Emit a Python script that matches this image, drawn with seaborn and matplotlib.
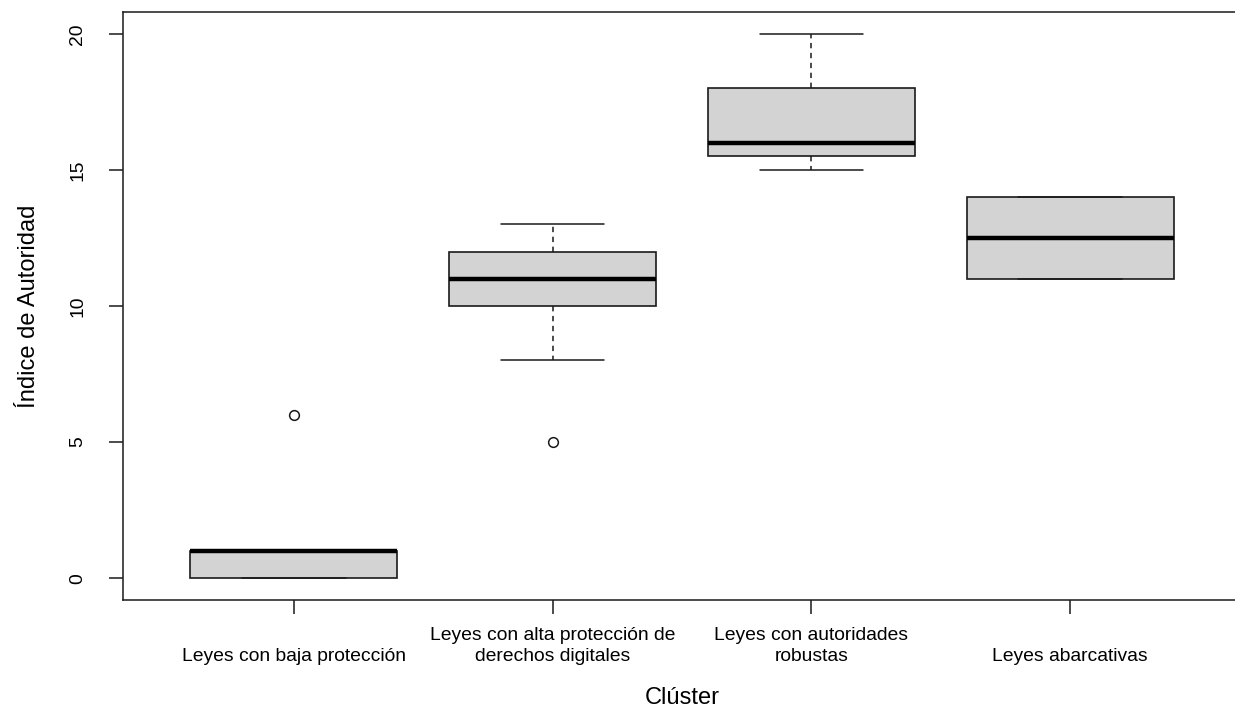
import matplotlib
matplotlib.use("Agg")
import matplotlib.pyplot as plt
import seaborn as sns
import pandas as pd

# ---- data ----
categories = [
    "Leyes con baja protección",
    "Leyes con alta protección de\nderechos digitales",
    "Leyes con autoridades\nrobustas",
    "Leyes abarcativas",
]
vals_baja = [0, 0, 0, 1, 1, 1, 1, 6]
vals_alta = [5, 8, 10, 10, 11, 11, 12, 12, 13]
vals_autoridades = [15, 15.5, 16, 18, 20]
vals_abarcativas = [11, 11, 14, 14]
y_ticks = [0, 5, 10, 15, 20]

groups = [vals_baja, vals_alta, vals_autoridades, vals_abarcativas]
df = pd.DataFrame({
    "cluster": [c for c, g in zip(categories, groups) for _ in g],
    "indice": [v for g in groups for v in g],
})

sns.set_theme(style="white")
plt.rcParams["font.family"] = ["Liberation Sans", "DejaVu Sans"]

W, H = 1235, 711
fig = plt.figure(figsize=(W / 100, H / 100), dpi=100)
ax_left, ax_right, ax_top, ax_bottom = 123, 1241, 12, 600
ax = fig.add_axes([ax_left / W, (H - ax_bottom) / H,
                   (ax_right - ax_left) / W, (ax_bottom - ax_top) / H])

edge = "#1a1a1a"
sns.boxplot(
    data=df, x="cluster", y="indice", order=categories, ax=ax,
    color="#D3D3D3", saturation=1, linecolor=edge, linewidth=1.2,
    width=0.8, whis=1.5,
    medianprops=dict(color="black", linewidth=3.2),
    whiskerprops=dict(color=edge, linewidth=1.1, linestyle=(0, (3.5, 3))),
    capprops=dict(color=edge, linewidth=1.1, linestyle="-"),
    flierprops=dict(marker="o", markerfacecolor="none", markeredgecolor=edge,
                    markersize=7, markeredgewidth=1.1),
    capwidths=0.4,
)

ax.set_xlim(-0.66, 3.66)
ax.set_ylim(-0.8, 20.8)
ax.set_yticks(y_ticks)
ax.set_yticklabels([str(t) for t in y_ticks], rotation=90, va="center")

for s in ax.spines.values():
    s.set_visible(True)
    s.set_color(edge)
    s.set_linewidth(1.1)

ax.tick_params(axis="both", which="major", direction="out", length=10,
               width=1.1, color=edge, labelsize=13.9, labelcolor="black",
               left=True, bottom=True)
ax.tick_params(axis="y", pad=16.5)
ax.tick_params(axis="x", pad=36.5)
for lab in ax.get_xticklabels():
    lab.set_verticalalignment("bottom")
    lab.set_multialignment("center")
    lab.set_linespacing(1.3)

ax.set_xlabel("Clúster", fontsize=17, color="black")
ax.set_ylabel("Índice de Autoridad", fontsize=17, color="black")
ax.xaxis.set_label_coords(0.5, -0.148)
ax.yaxis.set_label_coords(-0.0742, 0.5)

fig.savefig("out.png", dpi=100, facecolor="white")
